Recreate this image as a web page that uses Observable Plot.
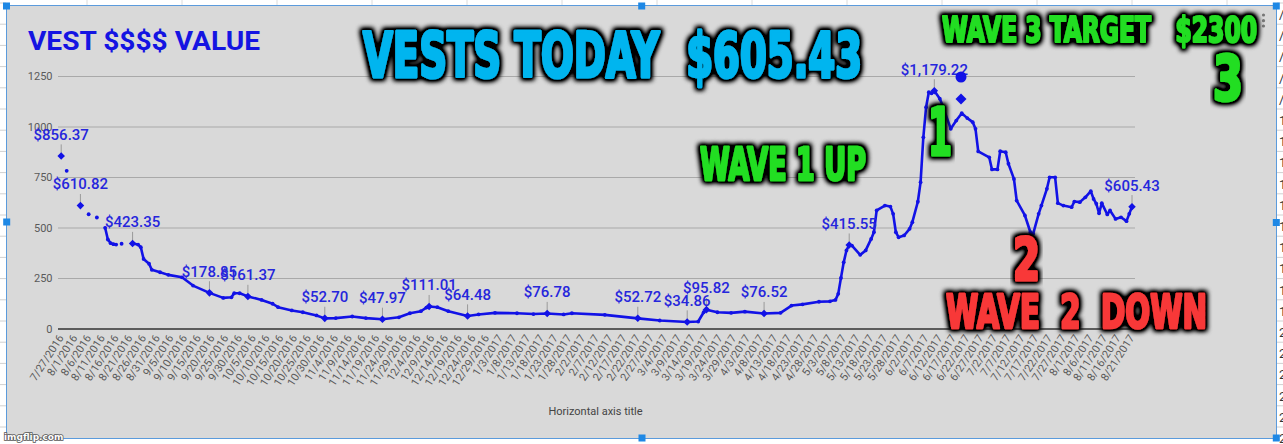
<!DOCTYPE html>
<html><head><meta charset="utf-8">
<script src="https://cdn.jsdelivr.net/npm/d3@7"></script>
<script src="https://cdn.jsdelivr.net/npm/@observablehq/plot@0.6"></script>
<style>
html,body{margin:0;padding:0;background:#fff;}
#wrap{position:relative;width:1283px;height:444px;overflow:hidden;font-family:Roboto,sans-serif;}
#panel{position:absolute;left:6px;top:5px;width:1271px;height:434px;background:#d9d9d9;box-sizing:border-box;border:1.5px solid #5b9bdc;}
#chart{position:absolute;left:0;top:0;}
#overlay{position:absolute;left:0;top:0;}
.meme{font-family:"DejaVu Sans Condensed","DejaVu Sans",sans-serif;font-weight:bold;white-space:pre;}
</style></head>
<body><div id="wrap"><svg id="bg" width="1283" height="444" style="position:absolute;left:0;top:0"></svg><div id="panel"></div><div id="chart"></div><svg id="overlay" width="1283" height="444"></svg></div>
<script>
// ---- data ----
const dates = ["7/27/2016","7/28/2016","7/29/2016","7/30/2016","8/3/2016","8/4/2016","8/6/2016","8/7/2016","8/9/2016","8/10/2016",
"8/12/2016","8/13/2016","8/14/2016","8/15/2016","8/16/2016","8/17/2016","8/18/2016","8/19/2016","8/22/2016","8/24/2016",
"8/25/2016","8/26/2016","8/28/2016","8/29/2016","9/1/2016","9/4/2016","9/9/2016","9/13/2016","9/19/2016","9/24/2016",
"9/27/2016","9/28/2016","9/30/2016","10/3/2016","10/8/2016","10/12/2016","10/14/2016","10/19/2016","10/23/2016","10/28/2016",
"10/31/2016","11/4/2016","11/10/2016","11/15/2016","11/21/2016","11/27/2016","12/1/2016","12/5/2016","12/7/2016","12/8/2016",
"12/11/2016","12/15/2016","12/22/2016","12/26/2016","1/1/2017","1/9/2017","1/15/2017","1/20/2017","1/26/2017","1/29/2017",
"2/10/2017","2/22/2017","3/2/2017","3/12/2017","3/16/2017","3/18/2017","3/19/2017","3/23/2017","3/28/2017","4/2/2017",
"4/9/2017","4/15/2017","4/19/2017","4/23/2017","4/29/2017","5/3/2017","5/5/2017","5/6/2017","5/7/2017","5/8/2017",
"5/9/2017","5/10/2017","5/11/2017","5/14/2017","5/16/2017","5/18/2017","5/19/2017","5/20/2017","5/23/2017","5/25/2017",
"5/26/2017","5/27/2017","5/28/2017","5/30/2017","6/1/2017","6/2/2017","6/4/2017","6/5/2017","6/6/2017","6/7/2017",
"6/8/2017","6/9/2017","6/10/2017","6/12/2017","6/13/2017","6/16/2017","6/18/2017","6/20/2017","6/22/2017","6/24/2017",
"6/25/2017","6/26/2017","6/30/2017","7/1/2017","7/3/2017","7/4/2017","7/6/2017","7/7/2017","7/9/2017","7/10/2017",
"7/13/2017","7/15/2017","7/16/2017","7/18/2017","7/19/2017","7/21/2017","7/22/2017","7/24/2017","7/25/2017","7/27/2017",
"7/30/2017","7/31/2017","8/2/2017","8/4/2017","8/6/2017","8/7/2017","8/8/2017","8/9/2017","8/10/2017","8/12/2017",
"8/13/2017","8/15/2017","8/17/2017","8/19/2017","8/20/2017","8/21/2017"];
const values = [856.37,null,783,null,610.82,null,568,null,552,null,
501,443,425,420,418,null,422,null,423.35,418,
405,347,323,293,281,268,256,215,178.85,154,
157,177,177,161.37,144,125,108,92,83,67,
52.70,54,62,54,47.97,58,78,88,106,111.01,
108,88,64.48,72,80,78,74,76.78,72,78,
70,52.72,42,34.86,37,83,95.82,83,80,86,
76.52,80,116,122,135,137,144,174,253,330,
389,415.55,413,367,389,446,479,587,611,606,
570,479,454,463,496,529,630,727,949,1098,
1172,1167,1179.22,1140,1106,991,1032,1068,1044,1024,
991,879,850,790,790,880,875,818,743,636,
562,479,471,570,611,694,751,751,623,611,
603,631,628,652,682,644,620,573,623,567,
587,545,553,534,570,605.43];
const labelDates = ["7/27/2016","8/3/2016","8/22/2016","9/19/2016","10/3/2016","10/31/2016","11/21/2016","12/8/2016",
"12/22/2016","1/20/2017","2/22/2017","3/12/2017","3/19/2017","4/9/2017","5/10/2017","6/10/2017","8/21/2017"];
const yTicks = [0,250,500,750,1000,1250];
const firstTick = "7/27/2016", lastTick = "8/21/2017";
const title = "VEST $$$$ VALUE";
const xTitle = "Horizontal axis title";

// ---- build ----
const parse = d3.utcParse("%m/%d/%Y");
const rows = dates.map((d,i)=>({key:d, date:parse(d), value:values[i]}));
const labeled = rows.filter(r=>labelDates.includes(r.key));
const money = d3.format("$,.2f");
const t0 = parse(firstTick), t1 = parse(lastTick);
const xTicks = d3.utcDay.range(t0, d3.utcDay.offset(t1,1), 5);
const blue = "#1212e6";

const plot = Plot.plot({
  width:1283, height:444,
  marginLeft:58, marginRight:148, marginTop:76, marginBottom:115.5,
  insetLeft:2.7, insetRight:3.5,
  x:{type:"utc", domain:[t0,t1], ticks:xTicks, tickFormat:d3.utcFormat("%-m/%-d/%Y"), tickRotate:-57, tickSize:0, tickPadding:7, label:null},
  y:{domain:[0,1250], ticks:yTicks, tickFormat:d3.format("d"), tickSize:0, tickPadding:6, label:null},
  style:{background:"transparent", fontFamily:"Roboto, sans-serif", fontSize:"11px", color:"#5a5a5a", overflow:"visible", maxWidth:"none"},
  marks:[
    Plot.ruleY(yTicks.filter(t=>t>0), {stroke:"#a9a9a9", strokeWidth:1}),
    Plot.ruleY([0], {stroke:"#5c5c5c", strokeWidth:2}),
    Plot.ruleX(labeled, {x:"date", y1:"value", y2:d=>d.value+55, stroke:"#9a9a9a", strokeWidth:1}),
    Plot.line(rows, {x:"date", y:"value", stroke:blue, strokeWidth:2.6}),
    Plot.dot(rows, {x:"date", y:"value", r:1.9, fill:blue}),
    Plot.dot(labeled, {x:"date", y:"value", symbol:"diamond2", r:3.4, fill:blue}),
    Plot.text(labeled, {x:"date", y:"value", text:d=>money(d.value), dy:-21, fill:"#2626dc", fontSize:15, fontWeight:500})
  ]
});
document.getElementById("chart").appendChild(plot);

// ---- background spreadsheet ----
const bg = d3.select("#bg");
for (let x=87; x<1283; x+=95) bg.append("line").attr("x1",x).attr("x2",x).attr("y1",0).attr("y2",5).attr("stroke","#dcdcdc");
for (let y=3; y<444; y+=21.2) {
  bg.append("line").attr("x1",0).attr("x2",6).attr("y1",y).attr("y2",y).attr("stroke","#d0d0d0");
  bg.append("line").attr("x1",1277).attr("x2",1283).attr("y1",y).attr("y2",y).attr("stroke","#d0d0d0");
}
const sideChars = ["/","/","/","/","/","1","1","1","1","1","1","1","1","1","1","2","2","2","2","2","2"];
sideChars.forEach((c,i)=>bg.append("text").attr("x",1279).attr("y",19+i*21.2).attr("font-size",13).attr("font-family","Roboto").attr("fill","#333").text(c));

// ---- overlay ----
const ov = d3.select("#overlay");
const defs = ov.append("defs");
const f = defs.append("filter").attr("id","glow").attr("x","-10%").attr("y","-40%").attr("width","120%").attr("height","180%");
f.append("feMorphology").attr("in","SourceAlpha").attr("operator","dilate").attr("radius",2).attr("result","dil");
f.append("feGaussianBlur").attr("in","dil").attr("stdDeviation",2.4).attr("result","blur");
const ct = f.append("feComponentTransfer").attr("in","blur").attr("result","sh");
ct.append("feFuncA").attr("type","linear").attr("slope",1.6);
const mg = f.append("feMerge"); mg.append("feMergeNode").attr("in","sh"); mg.append("feMergeNode").attr("in","SourceGraphic");

ov.append("text").attr("x",28).attr("y",49.5).attr("font-family","Roboto").attr("font-weight",700).attr("font-size",26)
  .attr("fill","#1414e2").attr("textLength",232).attr("lengthAdjust","spacingAndGlyphs").text(title);
ov.append("text").attr("x",595.5).attr("y",415).attr("text-anchor","middle").attr("font-family","Roboto").attr("font-size",11).attr("fill","#444").text(xTitle);

// legend markers
ov.append("circle").attr("cx",961).attr("cy",77).attr("r",5.5).attr("fill",blue);
ov.append("path").attr("d","M961,93.5L966.5,99L961,104.5L955.5,99Z").attr("fill",blue);
// menu dots
[15,20.7,26].forEach(y=>ov.append("circle").attr("cx",1263.5).attr("cy",y).attr("r",1.6).attr("fill","#777"));

const memes = [
  {t:"VESTS TODAY  $605.43", x:363, y:77, w:499, fs:62, c:"#00b5ef", sw:3},
  {t:"WAVE 3 TARGET   $2300", x:942, y:41.5, w:315, fs:35, c:"#22de22", sw:2},
  {t:"3", x:1213, y:100, w:30, fs:62, c:"#22de22", sw:3},
  {t:"1", x:928, y:155, w:24, fs:66, c:"#22de22", sw:3},
  {t:"WAVE 1 UP", x:700, y:180, w:166, fs:45, c:"#22de22", sw:2.4},
  {t:"2", x:1013, y:280, w:27, fs:59, c:"#f83838", sw:3},
  {t:"WAVE  2  DOWN", x:946, y:328, w:261, fs:46, c:"#f83838", sw:2.4}
];
memes.forEach(m=>ov.append("text").attr("class","meme").attr("x",m.x).attr("y",m.y).attr("font-size",m.fs)
  .attr("fill",m.c).attr("stroke",m.c).attr("stroke-width",m.sw).attr("stroke-linejoin","round")
  .attr("textLength",m.w).attr("lengthAdjust","spacingAndGlyphs").attr("filter","url(#glow)").text(m.t));

// selection handles
[[6.5,6],[641.7,6],[1276.3,6],[6.7,222],[1276.3,222.5],[642,438],[1276.3,438]].forEach(([x,y])=>
  ov.append("rect").attr("x",x-3.5).attr("y",y-3.5).attr("width",7).attr("height",7).attr("fill","#1e88e5"));
// watermark
ov.append("text").attr("x",4).attr("y",440).attr("font-family","DejaVu Sans").attr("font-weight","bold").attr("font-size",9)
  .attr("fill","#fff").attr("stroke","#555").attr("stroke-width",1.5).attr("paint-order","stroke").text("imgflip.com");
</script></body></html>
